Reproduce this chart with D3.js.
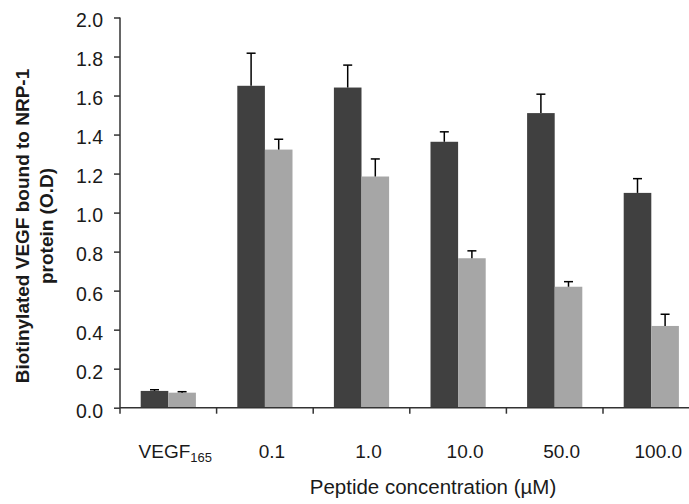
<!DOCTYPE html>
<html>
<head>
<meta charset="utf-8">
<script src="https://cdn.jsdelivr.net/npm/d3@7"></script>
<style>
  body { margin: 0; background: #fff; }
  text { font-family: "Liberation Sans", Arial, sans-serif; fill: #1a1a1a; }
</style>
</head>
<body>
<div id="chart"></div>
<script>
// categories and series
var categories = ["VEGF165", "0.1", "1.0", "10.0", "50.0", "100.0"];
var seriesNames = ["dark", "light"];
var darkValues = [0.086, 1.650, 1.641, 1.363, 1.510, 1.101];
var darkErrors = [0.006, 0.167, 0.115, 0.051, 0.097, 0.073];
var lightValues = [0.077, 1.323, 1.185, 0.766, 0.620, 0.419];
var lightErrors = [0.005, 0.053, 0.090, 0.038, 0.026, 0.060];
var yTicks = [0, 0.2, 0.4, 0.6, 0.8, 1.0, 1.2, 1.4, 1.6, 1.8, 2.0];

var width = 689, height = 504;
var colors = { dark: "#404040", light: "#a6a6a6" };

var svg = d3.select("#chart").append("svg")
    .attr("width", width)
    .attr("height", height);

// x axis runs past the right edge (picture is cropped there)
var x = d3.scaleBand().domain(categories).range([120, 699.6]);
var bw = x.bandwidth();
var x1 = d3.scaleBand().domain(seriesNames).range([bw * 0.2143, bw * 0.7857]);
var y = d3.scaleLinear().domain([0, 2]).range([407.7, 17.5]);

// rows for the bars
var rows = [];
for (var i in categories) {
    rows.push({ cat: categories[i], key: "dark", v: darkValues[i], e: darkErrors[i] });
    rows.push({ cat: categories[i], key: "light", v: lightValues[i], e: lightErrors[i] });
}

// bars
svg.selectAll("rect.bar")
    .data(rows)
    .enter()
    .append("rect")
    .attr("class", "bar")
    .attr("x", function (d) { return x(d.cat) + x1(d.key); })
    .attr("y", function (d) { return y(d.v); })
    .attr("width", x1.bandwidth())
    .attr("height", function (d) { return y(0) - y(d.v); })
    .style("fill", function (d) { return colors[d.key]; });

// error bars (upper only)
var err = svg.selectAll("g.err")
    .data(rows)
    .enter()
    .append("g")
    .attr("class", "err")
    .attr("stroke", "#000")
    .attr("stroke-width", 1.5);
err.append("line")
    .attr("x1", function (d) { return x(d.cat) + x1(d.key) + x1.bandwidth() / 2; })
    .attr("x2", function (d) { return x(d.cat) + x1(d.key) + x1.bandwidth() / 2; })
    .attr("y1", function (d) { return y(d.v); })
    .attr("y2", function (d) { return y(d.v + d.e); });
err.append("line")
    .attr("x1", function (d) { return x(d.cat) + x1(d.key) + x1.bandwidth() / 2 - 4.5; })
    .attr("x2", function (d) { return x(d.cat) + x1(d.key) + x1.bandwidth() / 2 + 4.5; })
    .attr("y1", function (d) { return y(d.v + d.e); })
    .attr("y2", function (d) { return y(d.v + d.e); });

// y axis
var yAxis = d3.axisLeft(y)
    .tickValues(yTicks)
    .tickFormat(d3.format(".1f"))
    .tickSize(6)
    .tickPadding(11)
    .tickSizeOuter(0);
var gy = svg.append("g")
    .attr("transform", "translate(" + x.range()[0] + ",0)")
    .call(yAxis);
gy.select(".domain").remove();
gy.selectAll(".tick line").attr("stroke", "#333").attr("stroke-width", 1.5);
gy.selectAll(".tick text")
    .attr("dy", "0.48em")
    .style("font-size", "19.5px")
    .style("font-family", "Liberation Sans, Arial, sans-serif")
    .attr("fill", "#1a1a1a");
svg.append("line")
    .attr("x1", x.range()[0]).attr("x2", x.range()[0])
    .attr("y1", y(2)).attr("y2", y(0) + 6)
    .attr("stroke", "#333").attr("stroke-width", 1.5);

// x axis line and ticks at category boundaries
svg.append("line")
    .attr("x1", x.range()[0]).attr("x2", x.range()[1])
    .attr("y1", y(0)).attr("y2", y(0))
    .attr("stroke", "#333").attr("stroke-width", 1.5);
svg.selectAll("line.xtick")
    .data(categories.slice(1))
    .enter()
    .append("line")
    .attr("class", "xtick")
    .attr("x1", function (d) { return x(d); })
    .attr("x2", function (d) { return x(d); })
    .attr("y1", y(0))
    .attr("y2", y(0) + 6)
    .attr("stroke", "#333").attr("stroke-width", 1.5);

// category labels
var labels = svg.selectAll("text.cat")
    .data(categories)
    .enter()
    .append("text")
    .attr("class", "cat")
    .attr("x", function (d) { return x(d) + bw / 2 + 7; })
    .attr("y", 458)
    .attr("text-anchor", "middle")
    .style("font-size", "19px");
labels.each(function (d) {
    var t = d3.select(this);
    if (d == "VEGF165") {
        t.append("tspan").text("VEGF");
        t.append("tspan").text("165").attr("dy", 4).style("font-size", "13px");
    } else {
        t.text(d);
    }
});

// axis titles
svg.append("text")
    .attr("x", 433)
    .attr("y", 494)
    .attr("text-anchor", "middle")
    .style("font-size", "20.5px")
    .text("Peptide concentration (\u00b5M)");

var yt = svg.append("text")
    .attr("transform", "translate(0,226) rotate(-90)")
    .attr("text-anchor", "middle")
    .style("font-size", "19px")
    .style("font-weight", "bold");
yt.append("tspan").attr("x", 0).attr("y", 29).text("Biotinylated VEGF bound to NRP-1");
yt.append("tspan").attr("x", 0).attr("y", 53).text("protein (O.D)");
</script>
</body>
</html>
